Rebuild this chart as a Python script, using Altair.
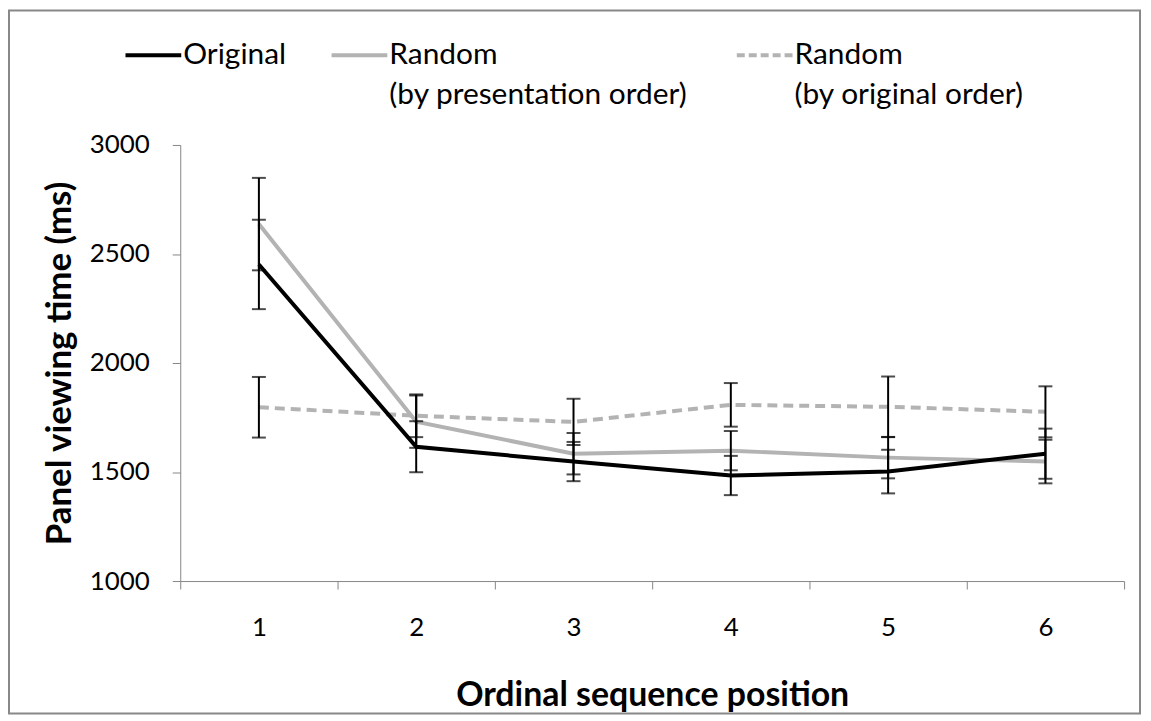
import altair as alt
import pandas as pd

positions = [1, 2, 3, 4, 5, 6]
original = [2452, 1616, 1548, 1484, 1502, 1584]
original_err = [205, 117, 90, 90, 100, 115]
random_pres = [2637, 1731, 1584, 1598, 1566, 1548]
random_pres_err = [212, 120, 95, 90, 95, 100]
random_orig = [1797, 1758, 1730, 1808, 1799, 1776]
random_orig_err = [139, 98, 106, 100, 139, 117]

series_names = ["Original", "Random (by presentation order)", "Random (by original order)"]
legend_line1 = ["Original", "Random", "Random"]
legend_line2 = ["", "(by presentation order)", "(by original order)"]

FONT = "Lato"
GRAY = "#b3b3b3"
AXIS_GRAY = "#868686"

rows = []
for name, vals, errs in zip(series_names,
                            [original, random_pres, random_orig],
                            [original_err, random_pres_err, random_orig_err]):
    for p, v, e in zip(positions, vals, errs):
        rows.append({"series": name, "pos": str(p), "value": v,
                     "low": v - e, "high": v + e})
df = pd.DataFrame(rows)

x_enc = alt.X("pos:O", sort=[str(p) for p in positions],
              scale=alt.Scale(type="band", paddingInner=0, paddingOuter=0),
              axis=alt.Axis(title="Ordinal sequence position", labelAngle=0,
                            tickBand="extent", tickSize=8, labelPadding=26,
                            titlePadding=38, domainColor=AXIS_GRAY,
                            tickColor=AXIS_GRAY, labelFontSize=26,
                            titleFontSize=34, titleFontWeight="bold",
                            labelColor="black", titleColor="black"))
y_scale = alt.Scale(domain=[1000, 3000], nice=False, zero=False)
y_enc = alt.Y("value:Q", scale=y_scale,
              axis=alt.Axis(title="Panel viewing time (ms)", values=[1000, 1500, 2000, 2500, 3000],
                            format="d", grid=False, tickSize=8, labelPadding=23, titlePadding=12,
                            domainColor=AXIS_GRAY, tickColor=AXIS_GRAY,
                            labelFontSize=26, titleFontSize=35,
                            titleFontWeight="bold", labelColor="black",
                            titleColor="black"))

base = alt.Chart(df)

def line_for(name, color, dash=None):
    kw = dict(color=color, strokeWidth=4)
    if dash:
        kw["strokeDash"] = dash
    return base.transform_filter(alt.datum.series == name).mark_line(**kw).encode(
        x=x_enc, y=y_enc)

l_orig = line_for(series_names[0], "black")
l_pres = line_for(series_names[1], GRAY)
l_rand = line_for(series_names[2], GRAY, [10, 6])

err_rule = base.mark_rule(color="black", strokeWidth=2).encode(
    x=alt.X("pos:O", sort=[str(p) for p in positions]),
    y=alt.Y("low:Q", scale=y_scale), y2="high:Q")
cap_low = base.mark_tick(color="black", size=14, thickness=2).encode(
    x=alt.X("pos:O", sort=[str(p) for p in positions]),
    y=alt.Y("low:Q", scale=y_scale))
cap_high = base.mark_tick(color="black", size=14, thickness=2).encode(
    x=alt.X("pos:O", sort=[str(p) for p in positions]),
    y=alt.Y("high:Q", scale=y_scale))

# Legend (drawn manually, positions relative to plot origin at (181,144))
one = alt.Data(values=[{"a": 1}])
leg = []
leg_x = [-55, 152, 559]
leg_len = 56
leg_colors = ["black", GRAY, GRAY]
leg_dash = [None, None, [8, 4]]
for i in range(3):
    kw = dict(color=leg_colors[i], strokeWidth=4)
    if leg_dash[i]:
        kw["strokeDash"] = leg_dash[i]
    leg.append(alt.Chart(one).mark_rule(**kw).encode(
        x=alt.value(leg_x[i]), x2=alt.value(leg_x[i] + leg_len),
        y=alt.value(-90)))
    leg.append(alt.Chart(one).mark_text(align="left", baseline="middle",
                                        font=FONT, fontSize=30, color="black").encode(
        x=alt.value(leg_x[i] + leg_len + 2), y=alt.value(-90),
        text=alt.value(legend_line1[i])))
    if legend_line2[i]:
        leg.append(alt.Chart(one).mark_text(align="left", baseline="middle",
                                            font=FONT, fontSize=30, color="black").encode(
            x=alt.value(leg_x[i] + leg_len + 2), y=alt.value(-50),
            text=alt.value(legend_line2[i])))

border = alt.Chart(one).mark_rect(fill=None, stroke="#888888", strokeWidth=2).encode(
    x=alt.value(-172), x2=alt.value(964), y=alt.value(-135), y2=alt.value(571))

chart = alt.layer(border, l_pres, l_rand, l_orig, err_rule, cap_low, cap_high, *leg).properties(
    width=948, height=438,
    padding={"left": 173, "top": 136, "right": 19, "bottom": 136},
    autosize=alt.AutoSizeParams(type="none"),
).configure(font=FONT).configure_view(stroke=None).configure_axis(labelFont=FONT, titleFont=FONT)

chart.save("out.html", embed_options={"renderer": "svg", "actions": False})
